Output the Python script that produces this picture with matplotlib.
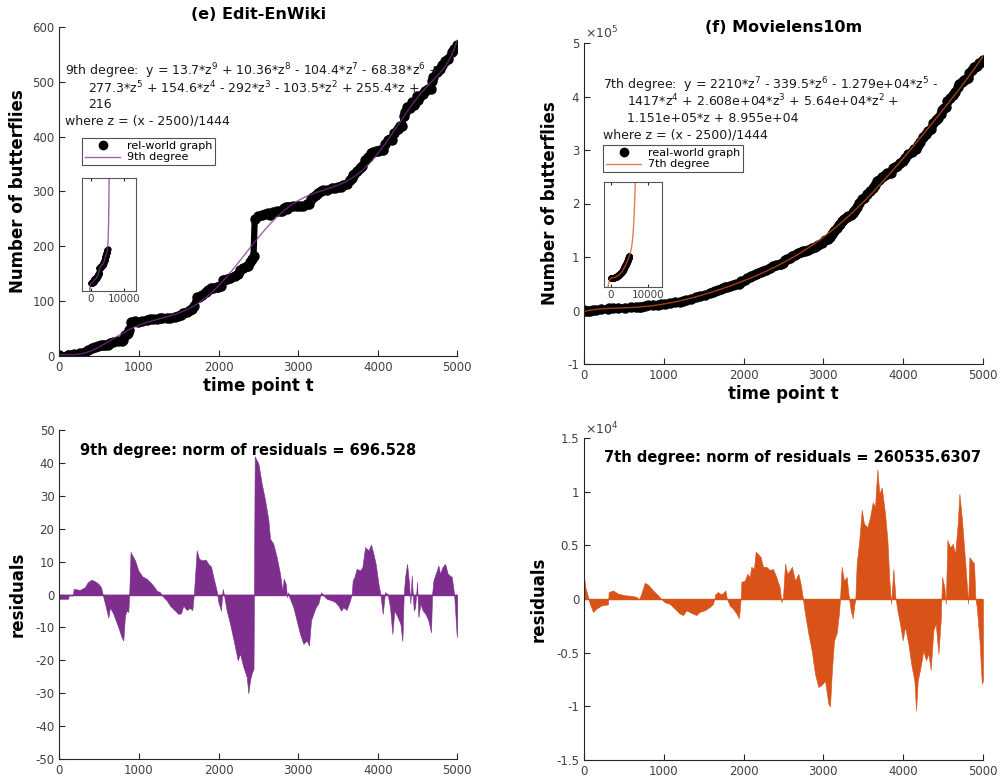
import numpy as np
import matplotlib.pyplot as plt
from matplotlib.lines import Line2D
from matplotlib.ticker import FuncFormatter

plt.rcParams['font.family'] = 'DejaVu Sans'
plt.rcParams['mathtext.default'] = 'regular'
plt.rcParams['axes.unicode_minus'] = False

PURPLE = '#7E2F8E'
ORANGE = '#D95319'
DARK = '#262626'

# polynomial fits, highest power first, z = (x - 2500)/1444
wiki_coef = [13.7, 10.36, -104.4, -68.38, 277.3, 154.6, -292, -103.5, 255.4, 216]
ml_coef = [2210, -339.5, -1.279e4, -1417, 2.608e4, 5.64e4, 1.151e5, 8.955e4]
z_mu, z_sigma = 2500, 1444

# Edit-EnWiki residuals (graph minus fit)
wiki_t = [0, 110, 120, 170, 180, 260, 320, 360, 405, 450, 490, 524, 545, 574, 616, 637,
          679, 742, 783, 804, 825, 846, 867, 878, 895, 951, 993, 1043, 1097, 1140, 1181,
          1223, 1265, 1294, 1349, 1391, 1454, 1495, 1529, 1558, 1600, 1642, 1671, 1690,
          1726, 1755, 1789, 1839, 1872, 1906, 1935, 1977, 1998, 2031, 2052, 2069, 2103,
          2145, 2208, 2241, 2270, 2312, 2354, 2375, 2396, 2417, 2440, 2455, 2501, 2543,
          2585, 2627, 2647, 2689, 2731, 2773, 2802, 2819, 2844, 2861, 2877, 2890, 2940,
          2982, 3024, 3066, 3108, 3137, 3162, 3191, 3221, 3254, 3288, 3317, 3359, 3422,
          3464, 3506, 3539, 3568, 3610, 3652, 3673, 3686, 3707, 3736, 3778, 3807, 3841,
          3883, 3916, 3946, 3975, 4009, 4034, 4063, 4092, 4126, 4155, 4184, 4209, 4251,
          4285, 4310, 4327, 4344, 4369, 4394, 4411, 4427, 4453, 4470, 4495, 4511, 4536,
          4566, 4600, 4637, 4670, 4683, 4700, 4742, 4763, 4784, 4813, 4847, 4880, 4931,
          4960, 4994, 5000]
wiki_res = [-1.3, -1.3, -0.3, -0.3, 1.7, 1.4, 2.2, 3.8, 4.5, 4.0, 3.3, 2.2, 0, -2.8, -7, -3.9,
            -5.9, -10, -13, -14, -6.4, -4.9, -5.3, 0, 12.9, 10.4, 7.3, 5.5, 4.8, 3.8, 2.7,
            1.2, 0.7, -0.4, -1.8, -3.4, -4.9, -5.9, -5.7, -3.4, -4.7, -4.1, -4.7, 0,
            13.4, 10.9, 10.4, 10.6, 9.3, 8.5, 5.3, 1.2, -2.3, -4.9, 1.7, -0.2, -4.9,
            -8.9, -16, -20, -18, -22, -25, -30, -26, -24, -22.5, 42, 39.8, 33.7,
            28.7, 22.6, 17, 15.4, 11.4, 6.3, 1.2, 4.8, 3.3, -0.8, 0.7, -0.8, -3.9,
            -7.9, -12, -15, -14, -15.5, -7.9, -5.9, -3.9, -2.8, 0.7, -0.3, -1.3, -1.8,
            -2.3, -3.4, -4.9, -3.9, -4.7, -1.8, 0, 4.3, 5.3, 7.8, 7.3, 8.3, 14.4,
            13.4, 15.2, 12.4, 9.3, 3.3, 0, -5.9, 0.7, 0, -3.9, -12, -4.9, -6.9,
            -8.9, -14.2, 0, 5.3, 9.3, 3.3, -2.8, 5.8, -4.9, -3.9, 3.8, -6.9, -2.8,
            -4.9, -5.9, -7.9, -11.5, 0, 4.3, 7.3, 8.8, 6.3, 8.3, 9.3, 6.3, 5.3,
            0, -13, -10]

# Movielens10m residuals, in units of 1e4
ml_t = [0, 17, 50, 71, 113, 155, 217, 301, 309, 363, 426, 510, 593, 656, 689, 718, 760,
        802, 865, 927, 969, 1011, 1074, 1136, 1199, 1241, 1282, 1345, 1408, 1449, 1512,
        1575, 1617, 1646, 1679, 1713, 1742, 1771, 1792, 1825, 1867, 1909, 1942, 1963,
        1972, 2013, 2047, 2076, 2097, 2130, 2151, 2180, 2214, 2243, 2285, 2327, 2368,
        2410, 2452, 2473, 2494, 2519, 2548, 2581, 2606, 2644, 2686, 2715, 2740, 2769,
        2811, 2853, 2895, 2937, 2978, 3020, 3062, 3083, 3104, 3133, 3166, 3195, 3208,
        3229, 3258, 3292, 3313, 3342, 3367, 3384, 3400, 3417, 3450, 3480, 3509, 3551,
        3584, 3618, 3647, 3676, 3701, 3731, 3772, 3802, 3827, 3848, 3877, 3902, 3927,
        3960, 3994, 4023, 4065, 4106, 4140, 4161, 4182, 4211, 4253, 4286, 4316, 4345,
        4378, 4408, 4441, 4470, 4487, 4516, 4533, 4554, 4587, 4621, 4650, 4683, 4704,
        4734, 4763, 4788, 4813, 4830, 4859, 4888, 4905, 4922, 4956, 4985, 5000]
ml_res = [0.205, 0.11, 0.02, -0.04, -0.12, -0.09, -0.06, -0.05, 0.065, 0.08, 0.05, 0.035,
          0.03, 0.02, -0.005, 0.05, 0.15, 0.135, 0.08, 0.035, 0.0, -0.03, -0.045, -0.09,
          -0.135, -0.15, -0.105, -0.13, -0.15, -0.12, -0.105, -0.075, -0.045, 0.045,
          0.065, 0.045, 0.055, 0.08, 0, -0.06, -0.09, -0.135, -0.18, 0, 0.16, 0.17,
          0.235, 0.205, 0.3, 0.28, 0.44, 0.42, 0.39, 0.3, 0.3, 0.27, 0.28, 0.205, 0.11,
          -0.03, 0.02, 0.33, 0.235, 0.27, 0.3, 0.17, 0.235, 0.14, 0.02, -0.135, -0.32,
          -0.48, -0.7, -0.82, -0.8, -0.76, -0.975, -1.0, -0.7, -0.385, -0.32, -0.135, 0,
          0.3, 0.17, 0.205, 0.05, -0.105, -0.18, -0.075, 0, 0.33, 0.55, 0.83, 0.7, 0.67,
          0.76, 0.9, 0.86, 1.21, 0.98, 1.04, 0.8, 0.55, 0.17, -0.045, 0.28, 0.02, -0.105,
          -0.23, -0.385, -0.26, -0.42, -0.63, -0.76, -1.04, -0.76, -0.66, -0.48, -0.57,
          -0.51, -0.66, -0.29, -0.23, -0.51, -0.2, 0.205, 0.11, -0.045, 0.55, 0.48, 0.515,
          0.42, 0.7, 0.98, 0.76, 0.48, 0.235, -0.045, 0.39, 0.36, 0.33, 0, -0.075,
          -0.385, -0.79, -0.76]
ml_scale = 1e4

wiki_t = np.array(wiki_t, dtype=float)
wiki_res = np.array(wiki_res)
ml_t = np.array(ml_t, dtype=float)
ml_res = np.array(ml_res) * ml_scale


def fit(coef, x):
    return np.polyval(coef, (np.asarray(x) - z_mu) / z_sigma)


wiki_y = fit(wiki_coef, wiki_t) + wiki_res
ml_y = fit(ml_coef, ml_t) + ml_res

W, H = 1001, 781
fig = plt.figure(figsize=(W / 100, H / 100), dpi=100)


def px_axes(x0, x1, ytop, ybot):
    return fig.add_axes([x0 / W, 1 - ybot / H, (x1 - x0) / W, (ybot - ytop) / H])


def style(ax):
    for s in ['top', 'right']:
        ax.spines[s].set_visible(False)
    for s in ['left', 'bottom']:
        ax.spines[s].set_color(DARK)
        ax.spines[s].set_linewidth(0.8)
    ax.tick_params(direction='in', length=4, width=0.8, labelsize=8.5,
                   colors=DARK, labelcolor='#404040')
    ax.set_xlim(0, 5000)
    ax.set_xticks(range(0, 5001, 1000))


def draw_top(ax, t, y, coef, color, ylim, yticks, label, fitlabel, legend_xy):
    xs = np.linspace(0, 5000, 600)
    ax.plot(t, y, '-', color='k', lw=4.5, solid_capstyle='round', solid_joinstyle='round')
    ax.plot(t, y, 'o', color='k', ms=6.5, mec='k')
    ax.plot(xs, fit(coef, xs), color=color, lw=1, alpha=0.75)
    ax.set_ylim(*ylim)
    ax.set_yticks(yticks)
    handles = [Line2D([], [], ls='none', marker='o', color='k', ms=6),
               Line2D([], [], color=color, lw=1, alpha=0.75)]
    leg = ax.legend(handles, [label, fitlabel], loc='upper left',
                    bbox_to_anchor=(legend_xy[0] / W, 1 - legend_xy[1] / H),
                    bbox_transform=fig.transFigure, borderaxespad=0, fancybox=False,
                    fontsize=8, handlelength=3.2, borderpad=0.25, labelspacing=0.15,
                    handletextpad=0.6)
    leg.get_frame().set_edgecolor(DARK)
    leg.get_frame().set_linewidth(0.8)


def draw_inset(box, t, y, coef, color, xlim, ylim):
    ins = px_axes(*box)
    xs = np.linspace(xlim[0], xlim[1], 2000)
    ins.plot(t, y, '-', color='k', lw=3, solid_capstyle='round')
    ins.plot(t, y, 'o', color='k', ms=3.5)
    ins.plot(xs, fit(coef, xs), color=color, lw=1, alpha=0.75)
    ins.set_xlim(*xlim)
    ins.set_ylim(*ylim)
    ins.set_xticks([0, 10000])
    ins.set_yticks([])
    for s in ins.spines.values():
        s.set_color('#555555')
        s.set_linewidth(0.8)
    ins.tick_params(direction='in', length=2.5, labelsize=7.5, colors=DARK,
                    labelcolor='#404040', top=True, pad=2)


def draw_resid(ax, t, r, color):
    ax.fill_between(t, 0, r, color=color, lw=0.4)
    ax.plot([0, 5000], [0, 0], color=color, lw=1)


lab = dict(fontsize=12, fontweight='bold', color='k')

# (e) Edit-EnWiki
ax1 = px_axes(59.3, 457.3, 27, 356)
style(ax1)
draw_top(ax1, wiki_t, wiki_y, wiki_coef, PURPLE, (0, 600), range(0, 601, 100),
         'rel-world graph', '9th degree', (82, 138))
ax1.set_title('(e) Edit-EnWiki', fontsize=11.5, fontweight='bold', pad=6)
ax1.set_ylabel('Number of butterflies', labelpad=4, **lab)
ax1.set_xlabel('time point t', labelpad=2, **lab)
tx = dict(transform=fig.transFigure, fontsize=9, color='#1a1a1a', va='baseline')
fig.text(65 / W, 1 - 75 / H,
         r'9th degree:  y = 13.7*z$^{9}$ + 10.36*z$^{8}$ - 104.4*z$^{7}$ - 68.38*z$^{6}$ +', **tx)
fig.text(88 / W, 1 - 93 / H,
         r'277.3*z$^{5}$ + 154.6*z$^{4}$ - 292*z$^{3}$ - 103.5*z$^{2}$ + 255.4*z +', **tx)
fig.text(88 / W, 1 - 108 / H, '216', **tx)
fig.text(65 / W, 1 - 124 / H, 'where z = (x - 2500)/1444', **tx)
draw_inset((82, 136, 178, 291), wiki_t, wiki_y, wiki_coef, PURPLE,
           (-2700, 13600), (-130, 1765))

# (f) Movielens10m
ax2 = px_axes(584, 983, 43, 364)
style(ax2)
draw_top(ax2, ml_t, ml_y, ml_coef, ORANGE, (-1e5, 5e5), np.arange(-1e5, 5.01e5, 1e5),
         'real-world graph', '7th degree', (603, 145))
ax2.yaxis.set_major_formatter(FuncFormatter(lambda v, p: f'{v / 1e5:g}'))
ax2.text(0.002, 1.005, r'$\times10^{5}$', transform=ax2.transAxes, fontsize=9,
         color='#404040', ha='left', va='bottom')
ax2.set_title('(f) Movielens10m', fontsize=11.5, fontweight='bold', pad=8)
ax2.set_ylabel('Number of butterflies', labelpad=6, **lab)
ax2.set_xlabel('time point t', labelpad=2, **lab)
fig.text(603 / W, 1 - 89 / H,
         r'7th degree:  y = 2210*z$^{7}$ - 339.5*z$^{6}$ - 1.279e+04*z$^{5}$ -', **tx)
fig.text(627 / W, 1 - 106 / H,
         r'1417*z$^{4}$ + 2.608e+04*z$^{3}$ + 5.64e+04*z$^{2}$ +', **tx)
fig.text(627 / W, 1 - 122 / H, '1.151e+05*z + 8.955e+04', **tx)
fig.text(603 / W, 1 - 138 / H, 'where z = (x - 2500)/1444', **tx)
draw_inset((604, 662, 182, 287), ml_t, ml_y, ml_coef, ORANGE,
           (-1900, 13800), (-1.9e5, 2.03e6))

# residuals, Edit-EnWiki
ax3 = px_axes(59.3, 457.3, 430, 759)
style(ax3)
draw_resid(ax3, wiki_t, wiki_res, PURPLE)
ax3.set_ylim(-50, 50)
ax3.set_yticks(range(-50, 51, 10))
ax3.set_ylabel('residuals', labelpad=6, **lab)
ax3.text(260, 42.4, '9th degree: norm of residuals = 696.528', fontsize=10.5,
         fontweight='bold', va='baseline')

# residuals, Movielens10m
ax4 = px_axes(584, 983, 438, 760)
style(ax4)
draw_resid(ax4, ml_t, ml_res, ORANGE)
ax4.set_ylim(-1.5e4, 1.5e4)
ax4.set_yticks(np.arange(-1.5e4, 1.51e4, 0.5e4))
ax4.yaxis.set_major_formatter(FuncFormatter(lambda v, p: f'{v / 1e4:g}'))
ax4.text(0.002, 1.002, r'$\times10^{4}$', transform=ax4.transAxes, fontsize=9,
         color='#404040', ha='left', va='bottom')
ax4.set_ylabel('residuals', labelpad=6, **lab)
ax4.text(250, 1.28e4, '7th degree: norm of residuals = 260535.6307', fontsize=10.5,
         fontweight='bold', va='baseline')

fig.savefig('out.png', dpi=100, facecolor='white')
